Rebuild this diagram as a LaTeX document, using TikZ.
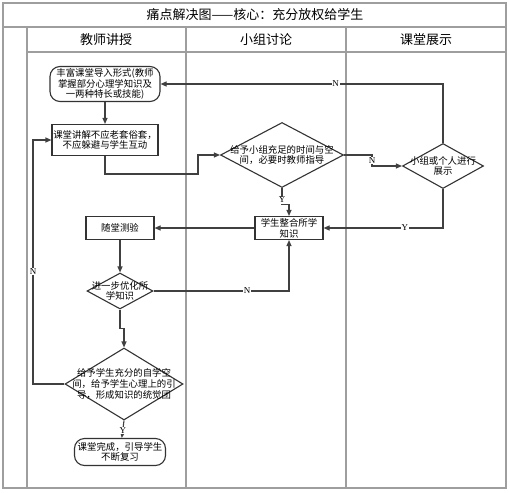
\documentclass[tikz,border=0pt]{standalone}
\usepackage{fontspec}
\setmainfont{Noto Sans CJK SC}
\newfontfamily\ynfont{Liberation Serif}
\usetikzlibrary{arrows.meta,shapes.geometric}

\begin{document}
\begin{tikzpicture}[x=1pt, y=-1pt,
    frame/.style={draw=black!38, line width=1.4pt},
    head/.style={font=\fontsize{13}{13}\selectfont, inner sep=0pt},
    box/.style={rectangle, draw=black!80, line width=1.1pt, inner sep=1pt, align=center, font=\fontsize{9.4}{10.8}\selectfont},
    rbox/.style={box, rounded corners=10pt},
    dia/.style={diamond, draw=black!80, line width=1.1pt, inner sep=0pt},
    txt/.style={align=center, inner sep=0pt, font=\fontsize{9.4}{10.8}\selectfont},
    line/.style={-{Triangle[length=6pt, width=5pt]}, draw=black!75, line width=1.1pt},
    lbl/.style={fill=white, inner sep=0.6pt, font=\ynfont\fontsize{9}{9}\selectfont},
  ]
  \useasboundingbox (0,0) rectangle (510,492);

  % swimlane frame
  \draw[frame] (3,3) rectangle (506,488);
  \draw[frame] (3,27) -- (506,27);
  \draw[frame] (27,52) -- (506,52);
  \draw[frame] (27,27) -- (27,488);
  \draw[frame] (186,27) -- (186,488);
  \draw[frame] (346,27) -- (346,488);
  \node[head] (title) at (255,15) {痛点解决图——核心：充分放权给学生};
  \node[head] (lane1) at (106,40) {教师讲授};
  \node[head] (lane2) at (266,40) {小组讨论};
  \node[head] (lane3) at (426,40) {课堂展示};

  % steps
  \node[rbox, minimum width=110pt, minimum height=35pt] (intro) at (105,84) {丰富课堂导入形式(教师\\掌握部分心理学知识及\\一两种特长或技能)};
  \node[box, minimum width=106pt, minimum height=31pt] (lecture) at (105,140) {课堂讲解不应老套俗套，\\不应躲避与学生互动};
  \node[dia, minimum width=123pt, minimum height=65pt] (group) at (282,155) {};
  \node[txt] (groupt) at (group) {给予小组充足的时间与空\\间，必要时教师指导};
  \node[dia, minimum width=81pt, minimum height=45pt] (show) at (443,166) {};
  \node[txt] (showt) at (show) {小组或个人进行\\展示};
  \node[box, minimum width=68pt, minimum height=23pt] (merge) at (289,228) {学生整合所学\\知识};
  \node[box, minimum width=68pt, minimum height=23pt] (quiz) at (120,228) {随堂测验};
  \node[dia, minimum width=66pt, minimum height=36pt] (refine) at (120,291) {};
  \node[txt] (refinet) at (refine) {进一步优化所\\学知识};
  \node[dia, minimum width=118pt, minimum height=72pt] (self) at (124,384) {};
  \node[txt] (selft) at (self) {给予学生充分的自学空\\间，给予学生心理上的引\\导，形成知识的统觉团};
  \node[rbox, minimum width=91pt, minimum height=27pt] (done) at (120,452) {课堂完成，引导学生\\不断复习};

  % connectors
  \draw[line] (intro) -- (lecture);
  \draw[line] (lecture.south) |- (198,174) |- (group.west);
  \draw[line] (group.east) -- (372,155) -- node[lbl] {N} (372,166) -- (show.west);
  \draw[line] (show.north) |- node[lbl, pos=0.69] {N} (intro.east);
  \draw[line] (show.south) |- node[lbl, pos=0.66] {Y} (merge.east);
  \draw[line] (group.south) -- node[lbl, pos=0.75] {Y} ++(0,16) -| (merge.north);
  \draw[line] (merge) -- (quiz);
  \draw[line] (quiz) -- (refine.north);
  \draw[line] (refine.east) -| node[lbl, pos=0.345] {N} (merge.south);
  \draw[line] (refine.south) -- ++(0,19) -| (self.north);
  \draw[line] (self.west) -- (33,384) |- node[lbl, pos=0.23] {N} (lecture.west);
  \draw[line] (self.south) -- node[lbl, pos=0.55] {Y} (done);
\end{tikzpicture}
\end{document}
